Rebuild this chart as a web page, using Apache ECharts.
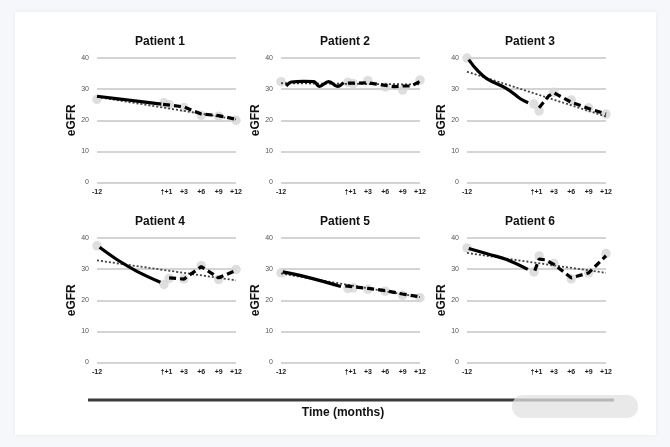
<!DOCTYPE html>
<html>
<head>
<meta charset="utf-8">
<script src="https://cdn.jsdelivr.net/npm/echarts@6/dist/echarts.min.js"></script>
<style>
  html, body { margin: 0; padding: 0; background: #f6f7fa; }
  #card { position: absolute; left: 15px; top: 12px; width: 641px; height: 423px; background: #fff;
          box-shadow: 0 0 4px rgba(0,0,0,0.06); }
  #chart { position: absolute; left: 0; top: 0; width: 670px; height: 447px; }
</style>
</head>
<body>
<div id="card"></div>
<div id="chart"></div>
<script>
// ---- data ----
const tickLabels = ['-12', '', '', '', '\u2020+1', '+3', '+6', '+9', '+12'];
const yTicks = [0, 10, 20, 30, 40];
const patients = ['Patient 1', 'Patient 2', 'Patient 3', 'Patient 4', 'Patient 5', 'Patient 6'];
// x positions (in tick slots) of the measured points
const markerSlots = [0, 3.85, 4.15, 5, 6, 7, 8];

const p1Markers = [26.7, 25.6, 25.0, 24.1, 21.6, 21.3, 20.0];
const p2Markers = [32.4, 32.2, 31.8, 32.7, 30.7, 29.7, 32.9];
const p3Markers = [40.0, 25.2, 23.0, 29.0, 26.5, 24.0, 22.0];
const p4Markers = [37.5, 25.1, 27.0, 26.9, 31.1, 26.7, 29.9];
const p5Markers = [28.8, 23.8, 24.0, 23.5, 22.9, 21.6, 20.8];
const p6Markers = [36.8, 29.1, 34.2, 31.8, 26.9, 28.8, 35.0];

// pre-transplant curve [slot, eGFR]
const p1Pre = [[0, 27.7], [1.8, 26.5], [3.7, 25.2]];
const p2Pre = [[0.3, 31.0], [0.6, 32.3], [1.3, 32.5], [1.9, 32.4], [2.2, 30.9], [2.75, 32.4], [3.25, 30.9], [3.6, 32.1]];
const p3Pre = [[0.1, 39.5], [0.6, 36.0], [1.13, 33.4], [2.28, 30.2], [3.05, 27.0], [3.52, 25.6]];
const p4Pre = [[0.15, 37.0], [1.14, 33.1], [2.3, 29.3], [3.65, 25.8]];
const p5Pre = [[0.1, 29.1], [1.66, 27.2], [3.45, 24.4]];
const p6Pre = [[0.1, 36.6], [1.3, 34.7], [2.28, 33.1], [3.5, 29.9]];

// post-transplant curve [slot, eGFR]
const p1Post = [[3.8, 25.1], [5, 24.3], [6, 22.0], [7, 21.5], [8, 20.3]];
const p2Post = [[3.85, 31.9], [5, 32.0], [6, 31.2], [6.5, 30.8], [7, 31.0], [7.5, 31.0], [8, 32.5]];
const p3Post = [[4.15, 24.0], [4.7, 27.8], [5, 28.8], [6, 25.8], [7, 23.8], [8, 22.0]];
const p4Post = [[4.15, 27.2], [5, 26.8], [6, 30.8], [7, 27.2], [8, 29.6]];
const p5Post = [[3.7, 24.6], [5, 23.8], [6, 23.1], [7, 22.0], [8, 21.1]];
const p6Post = [[3.9, 29.5], [4.15, 33.2], [4.5, 33.0], [5, 31.5], [6, 27.2], [7, 28.8], [8, 34.3]];

// dotted trend line: value at -12 and at +12
const p1Trend = [27.5, 20.3];
const p2Trend = [31.9, 31.5];
const p3Trend = [35.6, 21.2];
const p4Trend = [32.8, 26.4];
const p5Trend = [28.6, 21.0];
const p6Trend = [35.2, 28.8];

const markersAll = [p1Markers, p2Markers, p3Markers, p4Markers, p5Markers, p6Markers];
const preAll = [p1Pre, p2Pre, p3Pre, p4Pre, p5Pre, p6Pre];
const postAll = [p1Post, p2Post, p3Post, p4Post, p5Post, p6Post];
const trendAll = [p1Trend, p2Trend, p3Trend, p4Trend, p5Trend, p6Trend];

// ---- layout ----
const colLeft = [97, 281, 467];
const gridW = 139;
const rowTop = [58, 238];
const gridH = 124.5;
const titleX = [160, 345, 530];
const titleY = [42, 222];
const FONT = 'Liberation Sans, Arial, sans-serif';

const grids = [], xAxes = [], yAxes = [], series = [], graphics = [];
for (let i = 0; i < 6; i++) {
  const c = i % 3, r = Math.floor(i / 3);
  grids.push({ left: colLeft[c], top: rowTop[r], width: gridW, height: gridH });
  xAxes.push({
    type: 'value', gridIndex: i, min: 0, max: 8, interval: 1,
    axisLine: { show: false }, axisTick: { show: false }, splitLine: { show: false },
    axisLabel: {
      show: true, margin: 6, fontSize: 7, fontWeight: 'bold', color: '#1a1a1a', fontFamily: FONT,
      formatter: v => tickLabels[Math.round(v)] || '', showMinLabel: true, showMaxLabel: true
    }
  });
  yAxes.push({
    type: 'value', gridIndex: i, min: yTicks[0], max: yTicks[yTicks.length - 1], interval: 10,
    name: 'eGFR', nameLocation: 'middle', nameGap: 19, nameRotate: 90,
    nameTextStyle: { fontSize: 12, fontWeight: 'bold', color: '#111', fontFamily: FONT },
    axisLine: { show: false }, axisTick: { show: false },
    axisLabel: { fontSize: 7, color: '#555', margin: 8, fontFamily: FONT },
    splitLine: { lineStyle: { color: '#c6c6c6', width: 1.6 } }
  });
  series.push({
    type: 'scatter', xAxisIndex: i, yAxisIndex: i, z: 1, symbolSize: 9.5,
    itemStyle: { color: '#d6d6d6' }, silent: true,
    data: markerSlots.map((s, k) => [s, markersAll[i][k]])
  });
  series.push({
    type: 'line', xAxisIndex: i, yAxisIndex: i, z: 3, showSymbol: false, smooth: 0.4,
    lineStyle: { color: '#000', width: 3.2 }, data: preAll[i]
  });
  series.push({
    type: 'line', xAxisIndex: i, yAxisIndex: i, z: 3, showSymbol: false,
    lineStyle: { color: '#000', width: 3.2, type: [7, 4] }, data: postAll[i]
  });
  series.push({
    type: 'line', xAxisIndex: i, yAxisIndex: i, z: 2, showSymbol: false,
    lineStyle: { color: '#444', width: 1.8, type: [2, 2] },
    data: [[0, trendAll[i][0]], [8, trendAll[i][1]]]
  });
  graphics.push({
    type: 'text', x: titleX[c], y: titleY[r],
    style: { text: patients[i], font: 'bold 12px ' + FONT, fill: '#111', textAlign: 'center', textVerticalAlign: 'middle' }
  });
}
graphics.push({ type: 'line', shape: { x1: 88, y1: 400, x2: 614, y2: 400 }, style: { stroke: '#3a3a3a', lineWidth: 3 } });
graphics.push({ type: 'rect', shape: { x: 512, y: 395, width: 126, height: 23, r: 11 }, style: { fill: 'rgba(225,225,225,0.75)' } });
graphics.push({
  type: 'text', x: 343, y: 413,
  style: { text: 'Time (months)', font: 'bold 12px ' + FONT, fill: '#111', textAlign: 'center', textVerticalAlign: 'middle' }
});

const chart = echarts.init(document.getElementById('chart'));
chart.setOption({
  animation: false,
  backgroundColor: 'transparent',
  grid: grids, xAxis: xAxes, yAxis: yAxes, series: series, graphic: graphics
});
</script>
</body>
</html>
